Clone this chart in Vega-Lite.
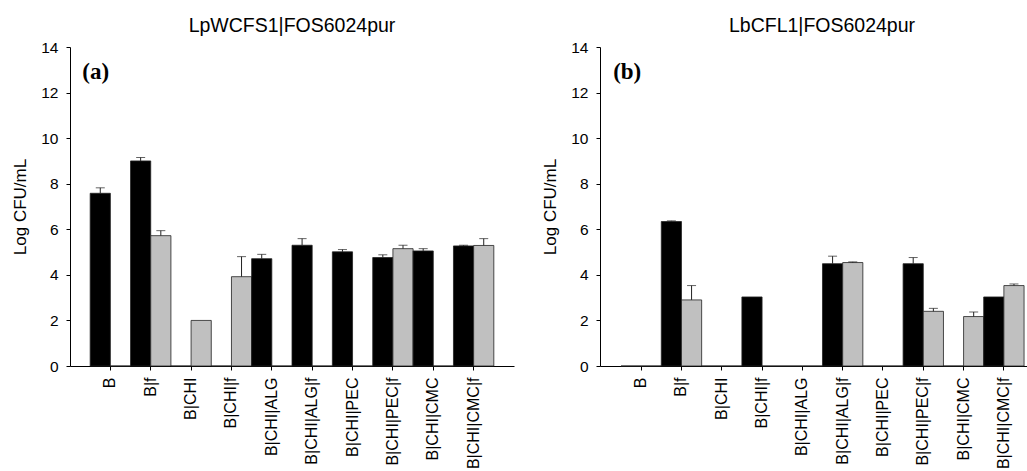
{
  "$schema": "https://vega.github.io/schema/vega-lite/v6.json",
  "padding": {"left": 11, "top": 15, "right": 0, "bottom": 0},
  "background": "white",
  "spacing": 27,
  "datasets": {
    "a": [
      {"cond": "B", "series": "black", "value": 7.58, "err": 7.82},
      {"cond": "B", "series": "grey", "value": 0, "err": 0},
      {"cond": "B|f", "series": "black", "value": 9.0, "err": 9.15},
      {"cond": "B|f", "series": "grey", "value": 5.72, "err": 5.94},
      {"cond": "B|CHI", "series": "black", "value": 0, "err": 0},
      {"cond": "B|CHI", "series": "grey", "value": 2.0, "err": 2.0},
      {"cond": "B|CHI|f", "series": "black", "value": 0, "err": 0},
      {"cond": "B|CHI|f", "series": "grey", "value": 3.92, "err": 4.8},
      {"cond": "B|CHI|ALG", "series": "black", "value": 4.71, "err": 4.9},
      {"cond": "B|CHI|ALG", "series": "grey", "value": 0, "err": 0},
      {"cond": "B|CHI|ALG|f", "series": "black", "value": 5.3, "err": 5.59},
      {"cond": "B|CHI|ALG|f", "series": "grey", "value": 0, "err": 0},
      {"cond": "B|CHI|PEC", "series": "black", "value": 5.01, "err": 5.11},
      {"cond": "B|CHI|PEC", "series": "grey", "value": 0, "err": 0},
      {"cond": "B|CHI|PEC|f", "series": "black", "value": 4.76, "err": 4.88},
      {"cond": "B|CHI|PEC|f", "series": "grey", "value": 5.15, "err": 5.3},
      {"cond": "B|CHI|CMC", "series": "black", "value": 5.05, "err": 5.15},
      {"cond": "B|CHI|CMC", "series": "grey", "value": 0, "err": 0},
      {"cond": "B|CHI|CMC|f", "series": "black", "value": 5.27, "err": 5.3},
      {"cond": "B|CHI|CMC|f", "series": "grey", "value": 5.29, "err": 5.59}
    ],
    "b": [
      {"cond": "B", "series": "black", "value": 0, "err": 0},
      {"cond": "B", "series": "grey", "value": 0, "err": 0},
      {"cond": "B|f", "series": "black", "value": 6.34, "err": 6.37},
      {"cond": "B|f", "series": "grey", "value": 2.9, "err": 3.53},
      {"cond": "B|CHI", "series": "black", "value": 0, "err": 0},
      {"cond": "B|CHI", "series": "grey", "value": 0, "err": 0},
      {"cond": "B|CHI|f", "series": "black", "value": 3.03, "err": 3.03},
      {"cond": "B|CHI|f", "series": "grey", "value": 0, "err": 0},
      {"cond": "B|CHI|ALG", "series": "black", "value": 0, "err": 0},
      {"cond": "B|CHI|ALG", "series": "grey", "value": 0, "err": 0},
      {"cond": "B|CHI|ALG|f", "series": "black", "value": 4.49, "err": 4.82},
      {"cond": "B|CHI|ALG|f", "series": "grey", "value": 4.54, "err": 4.57},
      {"cond": "B|CHI|PEC", "series": "black", "value": 0, "err": 0},
      {"cond": "B|CHI|PEC", "series": "grey", "value": 0, "err": 0},
      {"cond": "B|CHI|PEC|f", "series": "black", "value": 4.49, "err": 4.76},
      {"cond": "B|CHI|PEC|f", "series": "grey", "value": 2.4, "err": 2.53},
      {"cond": "B|CHI|CMC", "series": "black", "value": 0, "err": 0},
      {"cond": "B|CHI|CMC", "series": "grey", "value": 2.17, "err": 2.37},
      {"cond": "B|CHI|CMC|f", "series": "black", "value": 3.03, "err": 3.03},
      {"cond": "B|CHI|CMC|f", "series": "grey", "value": 3.53, "err": 3.6}
    ]
  },
  "config": {
    "view": {"stroke": null},
    "font": "Liberation Sans",
    "axis": {
      "domainColor": "#000000",
      "tickColor": "#000000",
      "labelColor": "#000000",
      "titleColor": "#000000",
      "domainWidth": 1,
      "tickWidth": 1,
      "tickSize": 4,
      "grid": false,
      "labelFont": "Liberation Sans",
      "titleFont": "Liberation Sans"
    },
    "title": {"font": "Liberation Sans", "fontSize": 19.5, "fontWeight": "normal", "color": "#000000", "offset": 4}
  },
  "hconcat": [
    {
      "width": 444,
      "height": 319,
      "title": {"text": "LpWCFS1|FOS6024pur"},
      "data": {"name": "a"},
      "encoding": {
        "x": {
          "field": "cond", "type": "nominal",
          "scale": {"domain": ["B", "B|f", "B|CHI", "B|CHI|f", "B|CHI|ALG", "B|CHI|ALG|f", "B|CHI|PEC", "B|CHI|PEC|f", "B|CHI|CMC", "B|CHI|CMC|f"], "paddingInner": 0, "paddingOuter": 0.5},
          "axis": {"title": null, "labelAngle": -90, "labelFontSize": 16, "labelPadding": 7}
        }
      },
      "layer": [
        {
          "mark": {"type": "bar", "stroke": "#222222", "strokeWidth": 0.8},
          "encoding": {
            "xOffset": {"field": "series", "scale": {"domain": ["black", "grey"]}},
            "y": {"field": "value", "type": "quantitative", "scale": {"domain": [0, 14]},
              "axis": {"values": [0, 2, 4, 6, 8, 10, 12, 14], "title": "Log CFU/mL", "titleFontSize": 17, "titleFontWeight": "normal", "titlePadding": 11.5, "labelFontSize": 15.5, "labelPadding": 8}},
            "color": {"field": "series", "scale": {"domain": ["black", "grey"], "range": ["#000000", "#c0c0c0"]}, "legend": null}
          }
        },
        {
          "transform": [{"filter": "datum.err > datum.value"}],
          "mark": {"type": "rule", "color": "#222222", "strokeWidth": 1},
          "encoding": {
            "xOffset": {"field": "series", "scale": {"domain": ["black", "grey"]}},
            "y": {"field": "value", "type": "quantitative"},
            "y2": {"field": "err"}
          }
        },
        {
          "transform": [{"filter": "datum.err > datum.value"}],
          "mark": {"type": "tick", "color": "#222222", "size": 9, "thickness": 1},
          "encoding": {
            "xOffset": {"field": "series", "scale": {"domain": ["black", "grey"]}},
            "y": {"field": "err", "type": "quantitative"}
          }
        },
        {
          "data": {"values": [{"label": "(a)"}]},
          "mark": {"type": "text", "font": "Liberation Serif", "fontWeight": "bold", "fontSize": 23, "align": "left", "baseline": "middle", "dx": -28, "color": "#000000"},
          "encoding": {
            "x": {"datum": "B"},
            "y": {"datum": 12.9},
            "text": {"field": "label"}
          }
        }
      ]
    },
    {
      "width": 428,
      "height": 319,
      "title": {"text": "LbCFL1|FOS6024pur", "dx": 8},
      "data": {"name": "b"},
      "encoding": {
        "x": {
          "field": "cond", "type": "nominal",
          "scale": {"domain": ["B", "B|f", "B|CHI", "B|CHI|f", "B|CHI|ALG", "B|CHI|ALG|f", "B|CHI|PEC", "B|CHI|PEC|f", "B|CHI|CMC", "B|CHI|CMC|f"], "paddingInner": 0, "paddingOuter": 0.31, "align": 0.84},
          "axis": {"title": null, "labelAngle": -90, "labelFontSize": 16, "labelPadding": 7}
        }
      },
      "layer": [
        {
          "mark": {"type": "bar", "stroke": "#222222", "strokeWidth": 0.8},
          "encoding": {
            "xOffset": {"field": "series", "scale": {"domain": ["black", "grey"]}},
            "y": {"field": "value", "type": "quantitative", "scale": {"domain": [0, 14]},
              "axis": {"values": [0, 2, 4, 6, 8, 10, 12, 14], "title": "Log CFU/mL", "titleFontSize": 17, "titleFontWeight": "normal", "titlePadding": 11.5, "labelFontSize": 15.5, "labelPadding": 8}},
            "color": {"field": "series", "scale": {"domain": ["black", "grey"], "range": ["#000000", "#c0c0c0"]}, "legend": null}
          }
        },
        {
          "transform": [{"filter": "datum.err > datum.value"}],
          "mark": {"type": "rule", "color": "#222222", "strokeWidth": 1},
          "encoding": {
            "xOffset": {"field": "series", "scale": {"domain": ["black", "grey"]}},
            "y": {"field": "value", "type": "quantitative"},
            "y2": {"field": "err"}
          }
        },
        {
          "transform": [{"filter": "datum.err > datum.value"}],
          "mark": {"type": "tick", "color": "#222222", "size": 9, "thickness": 1},
          "encoding": {
            "xOffset": {"field": "series", "scale": {"domain": ["black", "grey"]}},
            "y": {"field": "err", "type": "quantitative"}
          }
        },
        {
          "data": {"values": [{"label": "(b)"}]},
          "mark": {"type": "text", "font": "Liberation Serif", "fontWeight": "bold", "fontSize": 23, "align": "left", "baseline": "middle", "dx": -28, "color": "#000000"},
          "encoding": {
            "x": {"datum": "B"},
            "y": {"datum": 12.9},
            "text": {"field": "label"}
          }
        }
      ]
    }
  ]
}
